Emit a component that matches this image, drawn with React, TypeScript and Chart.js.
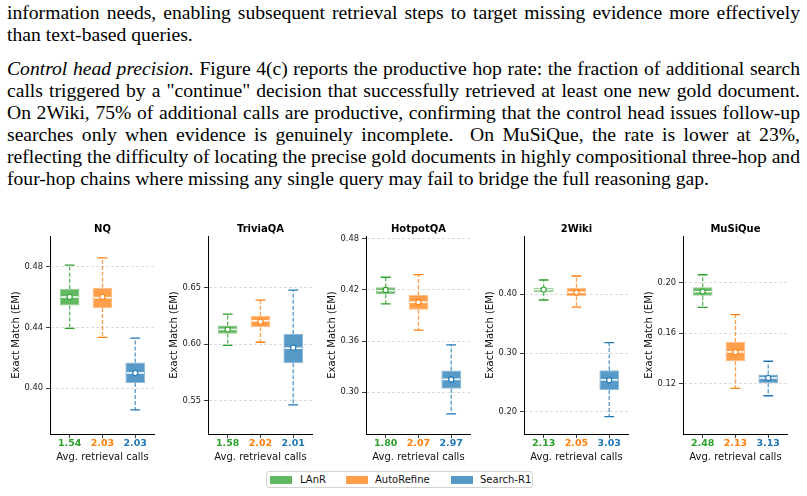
import React, { useEffect, useRef } from 'react';
import { Chart, registerables } from 'chart.js';

Chart.register(...registerables);
Chart.defaults.font.family = '"DejaVu Sans", sans-serif';

// ---- data -------------------------------------------------------------
const panelTitles = ['NQ', 'TriviaQA', 'HotpotQA', '2Wiki', 'MuSiQue'];
const methodNames = ['LAnR', 'AutoRefine', 'Search-R1'];

// average retrieval calls per method, one row per dataset
const avgRetrievalCalls = [
  [1.54, 2.03, 2.03],
  [1.58, 2.02, 2.01],
  [1.8, 2.07, 2.97],
  [2.13, 2.05, 3.03],
  [2.48, 2.13, 3.13],
];

// box-plot statistics of Exact Match, one row per dataset
const whiskerLow = [
  [0.4393, 0.4334, 0.3858],
  [0.5991, 0.6018, 0.5464],
  [0.4036, 0.3729, 0.2746],
  [0.3903, 0.3781, 0.192],
  [0.1805, 0.1164, 0.1105],
];
const quartile1 = [
  [0.4544, 0.4527, 0.4035],
  [0.6093, 0.6151, 0.5833],
  [0.415, 0.3969, 0.3042],
  [0.4034, 0.3966, 0.2374],
  [0.1897, 0.1378, 0.1203],
];
const medians = [
  [0.4599, 0.4595, 0.4101],
  [0.6131, 0.6208, 0.5965],
  [0.4192, 0.4056, 0.3152],
  [0.4078, 0.4034, 0.2546],
  [0.1929, 0.1452, 0.1245],
];
const quartile3 = [
  [0.4654, 0.466, 0.4169],
  [0.6166, 0.6252, 0.6093],
  [0.4232, 0.4141, 0.3257],
  [0.4112, 0.4112, 0.2711],
  [0.1964, 0.1531, 0.1274],
];
const whiskerHigh = [
  [0.4809, 0.4857, 0.4329],
  [0.6266, 0.639, 0.6479],
  [0.4349, 0.4379, 0.3557],
  [0.4243, 0.4311, 0.318],
  [0.2063, 0.1747, 0.1378],
];
const means = [
  [0.46, 0.46, 0.41],
  [0.613, 0.62, 0.597],
  [0.42, 0.4056, 0.315],
  [0.408, 0.403, 0.254],
  [0.193, 0.145, 0.1245],
];

const yTickValues = [
  [0.4, 0.44, 0.48],
  [0.55, 0.6, 0.65],
  [0.3, 0.36, 0.42, 0.48],
  [0.2, 0.3, 0.4],
  [0.12, 0.16, 0.2],
];
const yMin = [0.37, 0.5206, 0.2511, 0.1626, 0.0802];
const yMax = [0.5, 0.6958, 0.4833, 0.4991, 0.237];

// ---- styling ----------------------------------------------------------
const baseColors = ['#2ca02c', '#ff7f0e', '#1f77b4'];
const fillColors = ['rgba(44,160,44,0.75)', 'rgba(255,127,14,0.75)', 'rgba(31,119,180,0.75)'];
const rimColors = ['rgba(44,160,44,0.5)', 'rgba(255,127,14,0.5)', 'rgba(31,119,180,0.5)'];

const PANEL_LEFT = [0, 158, 316, 474, 633];
const PANEL_TOP = 215;
const PANEL_W = 160;
const PANEL_H = 251;

function BoxPanel({ p }: { p: number }) {
  const ref = useRef<HTMLCanvasElement>(null);

  useEffect(() => {
    const canvas = ref.current;
    if (!canvas) return;

    // whiskers, caps and median lines, drawn right after the boxes
    const whiskers = {
      id: 'boxWhiskers',
      afterDatasetDraw(chart: any, args: any) {
        if (args.index !== 0) return;
        const { ctx } = chart;
        const x = chart.scales.x;
        const y = chart.scales.y;
        ctx.save();
        args.meta.data.forEach((bar: any, j: number) => {
          const cx = x.getPixelForValue(j + 1);
          const half = bar.width / 2;
          const capHalf = half / 2;
          const yLo = y.getPixelForValue(whiskerLow[p][j]);
          const yQ1 = y.getPixelForValue(quartile1[p][j]);
          const yMed = y.getPixelForValue(medians[p][j]);
          const yQ3 = y.getPixelForValue(quartile3[p][j]);
          const yHi = y.getPixelForValue(whiskerHigh[p][j]);

          ctx.lineWidth = 1.3;
          ctx.strokeStyle = fillColors[j];
          ctx.setLineDash([4, 2]);
          ctx.beginPath();
          ctx.moveTo(cx, yQ3);
          ctx.lineTo(cx, yHi);
          ctx.moveTo(cx, yQ1);
          ctx.lineTo(cx, yLo);
          ctx.stroke();

          ctx.setLineDash([]);
          ctx.strokeStyle = baseColors[j];
          ctx.beginPath();
          ctx.moveTo(cx - capHalf, yHi);
          ctx.lineTo(cx + capHalf, yHi);
          ctx.moveTo(cx - capHalf, yLo);
          ctx.lineTo(cx + capHalf, yLo);
          ctx.stroke();

          ctx.strokeStyle = '#ffffff';
          ctx.lineWidth = 1.6;
          ctx.beginPath();
          ctx.moveTo(cx - half + 1, yMed);
          ctx.lineTo(cx + half - 1, yMed);
          ctx.stroke();
        });
        ctx.restore();
      },
    };

    const chart = new Chart(canvas, {
      type: 'bar',
      data: {
        datasets: [
          {
            type: 'bar',
            data: methodNames.map((_, j) => ({ x: j + 1, y: [quartile1[p][j], quartile3[p][j]] })),
            backgroundColor: fillColors,
            borderColor: rimColors,
            borderWidth: 1,
            borderSkipped: false,
            barPercentage: 0.6,
            categoryPercentage: 1,
            order: 1,
          } as any,
          {
            type: 'scatter',
            data: methodNames.map((_, j) => ({ x: j + 1, y: means[p][j] })),
            pointRadius: 2.6,
            pointBackgroundColor: '#ffffff',
            pointBorderColor: baseColors,
            pointBorderWidth: 1.1,
            order: 0,
          } as any,
        ],
      },
      options: {
        responsive: false,
        animation: false,
        events: [],
        layout: { padding: 0 },
        plugins: {
          legend: { display: false },
          tooltip: { enabled: false },
          title: {
            display: true,
            text: panelTitles[p],
            fullSize: false,
            color: '#000',
            font: { size: 10, weight: 'bold' },
            padding: { top: 8, bottom: 1 },
          },
        },
        scales: {
          x: {
            type: 'linear',
            min: 0.4,
            max: 3.6,
            offset: false,
            afterBuildTicks: (s: any) => {
              s.ticks = methodNames.map((_, j) => ({ value: j + 1 }));
            },
            afterFit: (s: any) => {
              s.height = 32;
            },
            ticks: {
              padding: 0,
              autoSkip: false,
              maxRotation: 0,
              color: (c: any) => baseColors[c.index] ?? '#000',
              font: { size: 9.5, weight: 'bold' },
              callback: (_v: any, i: number) => avgRetrievalCalls[p][i].toFixed(2),
            },
            grid: {
              offset: false,
              drawOnChartArea: false,
              drawTicks: true,
              tickLength: 4,
              tickColor: '#222',
              tickWidth: 0.9,
            },
            border: { color: '#000', width: 1 },
            title: {
              display: true,
              text: 'Avg. retrieval calls',
              color: '#111',
              font: { size: 10 },
              padding: { top: 0, bottom: 2.7 },
            },
          },
          y: {
            type: 'linear',
            min: yMin[p],
            max: yMax[p],
            beginAtZero: false,
            afterBuildTicks: (s: any) => {
              s.ticks = yTickValues[p].map((v) => ({ value: v }));
            },
            afterFit: (s: any) => {
              s.width = 50;
            },
            ticks: {
              padding: 3,
              color: '#222',
              font: { size: 8.3 },
              callback: (v: any) => Number(v).toFixed(2),
            },
            grid: {
              color: 'rgba(176,176,176,0.55)',
              lineWidth: 0.8,
              drawTicks: true,
              tickLength: 4,
              tickColor: '#222',
              tickWidth: 0.9,
            },
            border: { color: '#000', width: 1, dash: [3, 2] },
            title: {
              display: true,
              text: 'Exact Match (EM)',
              color: '#111',
              font: { size: 10 },
              padding: { top: 10, bottom: 0 },
            },
          },
        },
      } as any,
      plugins: [whiskers],
    });

    return () => chart.destroy();
  }, [p]);

  return (
    <canvas
      ref={ref}
      width={PANEL_W}
      height={PANEL_H}
      style={{ position: 'absolute', left: PANEL_LEFT[p], top: PANEL_TOP, width: PANEL_W, height: PANEL_H }}
    />
  );
}

// ---- body text --------------------------------------------------------
const textLines: { baseline: number; justify: boolean; italic?: string; text: string }[] = [
  { baseline: 19, justify: true, text: 'information needs, enabling subsequent retrieval steps to target missing evidence more effectively' },
  { baseline: 41, justify: false, text: 'than text-based queries.' },
  { baseline: 75.5, justify: true, italic: 'Control head precision.', text: ' Figure 4(c) reports the productive hop rate: the fraction of additional search' },
  { baseline: 97.5, justify: true, text: 'calls triggered by a "continue" decision that successfully retrieved at least one new gold document.' },
  { baseline: 119.5, justify: true, text: 'On 2Wiki, 75% of additional calls are productive, confirming that the control head issues follow-up' },
  { baseline: 141.5, justify: true, text: 'searches only when evidence is genuinely incomplete.\u00a0 On MuSiQue, the rate is lower at 23%,' },
  { baseline: 163.5, justify: true, text: 'reflecting the difficulty of locating the precise gold documents in highly compositional three-hop and' },
  { baseline: 185.5, justify: false, text: 'four-hop chains where missing any single query may fail to bridge the full reasoning gap.' },
];

const TEXT_SCALE = 1.09;

function BodyText() {
  return (
    <>
      {textLines.map((l, i) => (
        <div
          key={i}
          style={{
            position: 'absolute',
            left: 7,
            top: l.baseline - 17.07,
            width: 793 / TEXT_SCALE,
            transform: `scaleX(${TEXT_SCALE})`,
            transformOrigin: '0 0',
            fontFamily: '"Liberation Serif", "Times New Roman", serif',
            fontSize: 18,
            lineHeight: '22px',
            color: '#000',
            whiteSpace: 'nowrap',
            wordSpacing: l.justify ? '-1.5px' : 'normal',
            textAlign: l.justify ? 'justify' : 'left',
            textAlignLast: l.justify ? 'justify' : 'left',
          } as React.CSSProperties}
        >
          {l.italic ? <i>{l.italic}</i> : null}
          {l.text}
        </div>
      ))}
    </>
  );
}

// ---- legend -----------------------------------------------------------
const LEGEND_PATCH_LEFT = [270, 346, 451];
const LEGEND_TEXT_LEFT = [300, 375, 480];

function Legend() {
  return (
    <>
      <div
        style={{
          position: 'absolute',
          left: 266,
          top: 471,
          width: 267,
          height: 17,
          boxSizing: 'border-box',
          border: '1px solid #d4d4d4',
          borderRadius: 3,
          background: '#fff',
        }}
      />
      {methodNames.map((m, j) => (
        <React.Fragment key={m}>
          <div
            style={{
              position: 'absolute',
              left: LEGEND_PATCH_LEFT[j],
              top: 476,
              width: 22,
              height: 7.6,
              background: fillColors[j],
            }}
          />
          <div
            style={{
              position: 'absolute',
              left: LEGEND_TEXT_LEFT[j],
              top: 473.5,
              height: 12,
              lineHeight: '12px',
              fontFamily: '"DejaVu Sans", sans-serif',
              fontSize: 10,
              color: '#111',
              whiteSpace: 'nowrap',
            }}
          >
            {m}
          </div>
        </React.Fragment>
      ))}
    </>
  );
}

export default function App() {
  return (
    <div
      style={{
        position: 'absolute',
        left: 0,
        top: 0,
        width: 807,
        height: 496,
        background: '#fff',
        overflow: 'hidden',
      }}
    >
      <BodyText />
      {panelTitles.map((_, p) => (
        <BoxPanel key={p} p={p} />
      ))}
      <Legend />
    </div>
  );
}
